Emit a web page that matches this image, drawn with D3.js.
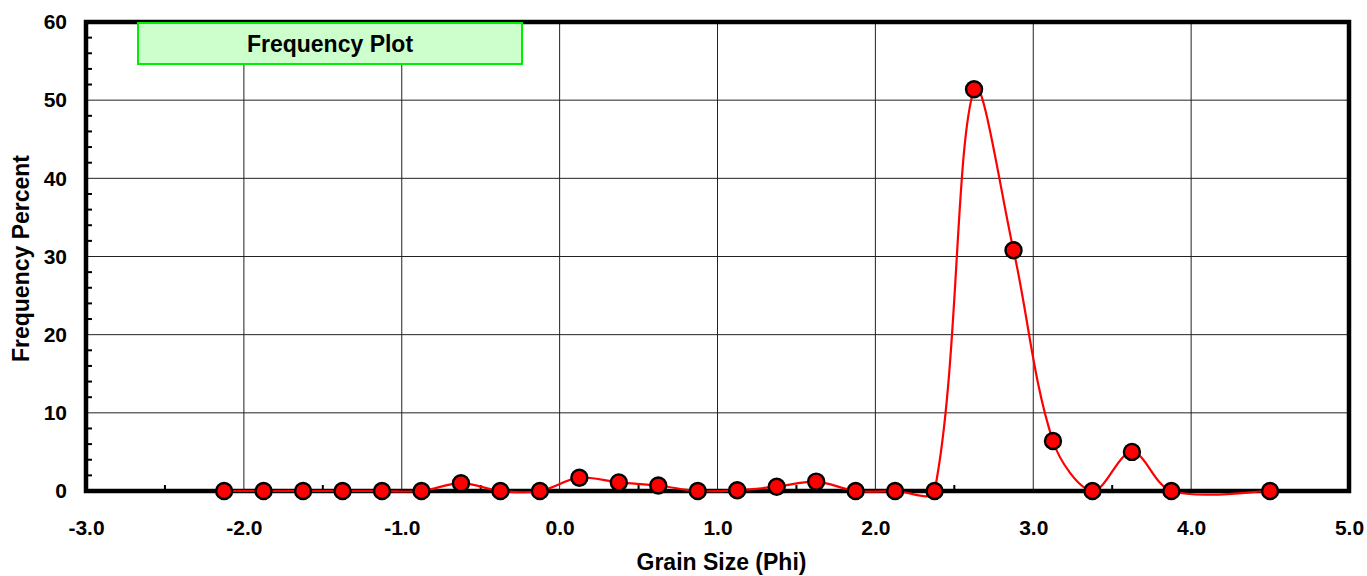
<!DOCTYPE html>
<html>
<head>
<meta charset="utf-8">
<script src="https://cdn.jsdelivr.net/npm/d3@7"></script>
<style>
  body { margin: 0; background: #fff; }
  svg { display: block; font-family: "Liberation Sans", Arial, sans-serif; }
</style>
</head>
<body>
<svg id="chart"></svg>
<script>
// grain size classes (phi) and frequency percent
const phi = [-2.125, -1.875, -1.625, -1.375, -1.125, -0.875, -0.625, -0.375, -0.125,
  0.125, 0.375, 0.625, 0.875, 1.125, 1.375, 1.625, 1.875, 2.125, 2.375,
  2.625, 2.875, 3.125, 3.375, 3.625, 3.875, 4.5];
const freq = [0, 0, 0, 0, 0, 0, 1.0, 0, 0,
  1.7, 1.1, 0.7, 0, 0.1, 0.55, 1.2, 0, 0, 0,
  51.4, 30.8, 6.4, 0, 5.0, 0, 0];
const xTicks = [-3, -2, -1, 0, 1, 2, 3, 4, 5];
const yTicks = [0, 10, 20, 30, 40, 50, 60];

const width = 1367, height = 576;
const margin = { top: 22, left: 86, bottom: 85, right: 18 };

const svg = d3.select("#chart").attr("width", width).attr("height", height);

const x = d3.scaleLinear().domain([-3, 5]).range([margin.left, width - margin.right]);
const y = d3.scaleLinear().domain([0, 60]).range([height - margin.bottom, margin.top]);

const x0 = x(-3), x1 = x(5), y0 = y(0), y1 = y(60);

// grid
const grid = svg.append("g");
grid.selectAll("line.v").data(xTicks.slice(1, -1)).enter().append("line")
  .attr("x1", d => x(d)).attr("x2", d => x(d))
  .attr("y1", y1).attr("y2", y0)
  .attr("stroke", "#222").attr("stroke-width", 1);
grid.selectAll("line.h").data(yTicks.slice(1, -1)).enter().append("line")
  .attr("x1", x0).attr("x2", x1)
  .attr("y1", d => y(d)).attr("y2", d => y(d))
  .attr("stroke", "#222").attr("stroke-width", 1);

// minor ticks
const xMinor = d3.range(-2.5, 5, 1);
svg.append("g").selectAll("line").data(xMinor).enter().append("line")
  .attr("x1", d => x(d)).attr("x2", d => x(d))
  .attr("y1", y0).attr("y2", y0 - 6)
  .attr("stroke", "#000").attr("stroke-width", 2);
const yMinor = d3.range(2, 60, 2).filter(v => v % 10 !== 0);
svg.append("g").selectAll("line").data(yMinor).enter().append("line")
  .attr("x1", x0).attr("x2", x0 + 6)
  .attr("y1", d => y(d)).attr("y2", d => y(d))
  .attr("stroke", "#000").attr("stroke-width", 2);

// frame
svg.append("rect")
  .attr("x", x0).attr("y", y1)
  .attr("width", x1 - x0).attr("height", y0 - y1)
  .attr("fill", "none").attr("stroke", "#000").attr("stroke-width", 4.5);

// axes labels
const fmt = v => d3.format(".1f")(v).replace("\u2212", "-");
const xAxis = d3.axisBottom(x).tickValues(xTicks).tickFormat(fmt).tickSize(0).tickPadding(29);
svg.append("g").attr("transform", `translate(0,${y0})`).call(xAxis)
  .call(g => g.select(".domain").remove())
  .selectAll("text")
  .attr("font-size", 21).attr("font-weight", "bold").attr("fill", "#000")
  .attr("font-family", "Liberation Sans, Arial, sans-serif");

const yAxis = d3.axisLeft(y).tickValues(yTicks).tickSize(0).tickPadding(19);
svg.append("g").attr("transform", `translate(${x0},0)`).call(yAxis)
  .call(g => g.select(".domain").remove())
  .selectAll("text")
  .attr("font-size", 21).attr("font-weight", "bold").attr("fill", "#000")
  .attr("font-family", "Liberation Sans, Arial, sans-serif");

svg.append("text")
  .attr("x", (x0 + x1) / 2 + 4).attr("y", 570)
  .attr("text-anchor", "middle")
  .attr("font-size", 23).attr("font-weight", "bold")
  .text("Grain Size (Phi)");

svg.append("text")
  .attr("transform", `translate(29,${(y0 + y1) / 2 + 2}) rotate(-90)`)
  .attr("text-anchor", "middle")
  .attr("font-size", 23).attr("font-weight", "bold")
  .text("Frequency Percent");

// title box
svg.append("rect")
  .attr("x", 138).attr("y", 23).attr("width", 384).attr("height", 41)
  .attr("fill", "#ccffcc").attr("stroke", "#00ee00").attr("stroke-width", 2);
svg.append("text")
  .attr("x", 330).attr("y", 52)
  .attr("text-anchor", "middle")
  .attr("font-size", 23).attr("font-weight", "bold")
  .text("Frequency Plot");

// series: spreadsheet-style smoothed line (bezier, control arms scaled by neighbour segment lengths)
const pts = phi.map((p, i) => [x(p), y(freq[i])]);
function smoothPath(P) {
  const path = d3.path();
  const n = P.length;
  const dist = (a, b) => Math.hypot(b[0] - a[0], b[1] - a[1]);
  const tangent = i => {
    const a = P[Math.max(i - 1, 0)], b = P[Math.min(i + 1, n - 1)];
    return [b[0] - a[0], b[1] - a[1]];
  };
  path.moveTo(P[0][0], P[0][1]);
  for (let i = 0; i < n - 1; i++) {
    const d0 = i > 0 ? dist(P[i - 1], P[i]) : 0;
    const d1 = dist(P[i], P[i + 1]);
    const d2 = i + 2 < n ? dist(P[i + 1], P[i + 2]) : 0;
    const t1 = tangent(i), t2 = tangent(i + 1);
    const s1 = (i > 0 ? 1 / 3 : 1 / 6) * d1 / (d0 + d1);
    const s2 = (i + 2 < n ? 1 / 3 : 1 / 6) * d1 / (d1 + d2);
    path.bezierCurveTo(
      P[i][0] + t1[0] * s1, P[i][1] + t1[1] * s1,
      P[i + 1][0] - t2[0] * s2, P[i + 1][1] - t2[1] * s2,
      P[i + 1][0], P[i + 1][1]);
  }
  return path.toString();
}

svg.append("path")
  .attr("d", smoothPath(pts))
  .attr("fill", "none").attr("stroke", "#ff0000").attr("stroke-width", 2.2);

svg.append("g").selectAll("circle").data(pts).enter().append("circle")
  .attr("cx", d => d[0]).attr("cy", d => d[1])
  .attr("r", 8)
  .attr("fill", "#ff0000").attr("stroke", "#000").attr("stroke-width", 2.4);
</script>
</body>
</html>
